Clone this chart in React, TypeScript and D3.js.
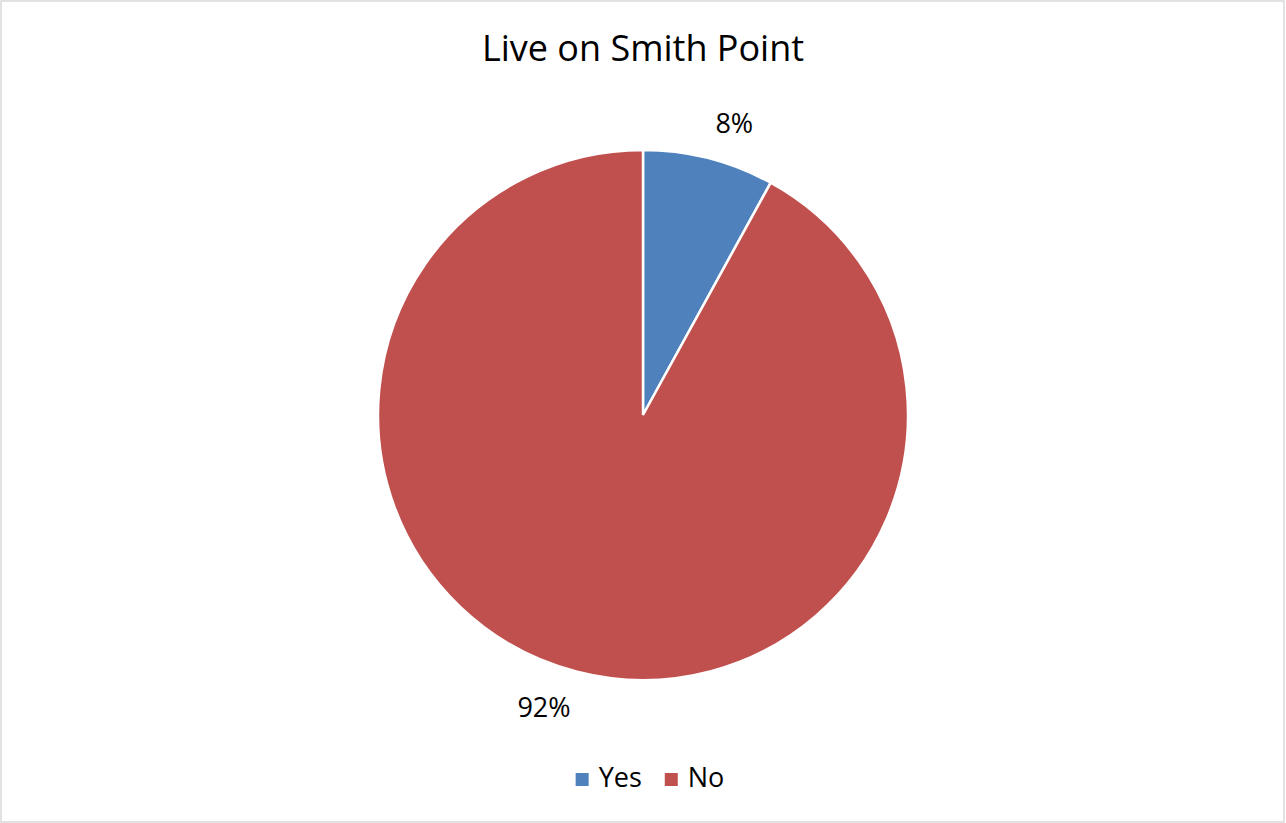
import React, { useEffect, useRef } from "react";
import * as d3 from "d3";

const title = "Live on Smith Point";
const categories = ["Yes", "No"];
const values = [8, 92];
const colors = ["#4F81BD", "#C0504D"];

const W = 1286;
const H = 823;
const FONT = "'Open Sans', 'Noto Sans', sans-serif";

export default function App() {
  const ref = useRef<SVGSVGElement>(null);

  useEffect(() => {
    const svg = d3.select(ref.current);
    svg.selectAll("*").remove();

    svg
      .append("rect")
      .attr("x", 1)
      .attr("y", 1)
      .attr("width", 1283)
      .attr("height", 821)
      .attr("fill", "#fff")
      .attr("stroke", "#d9d9d9")
      .attr("stroke-width", 1.5);

    svg
      .append("text")
      .attr("x", 643)
      .attr("y", 61)
      .attr("text-anchor", "middle")
      .attr("font-family", FONT)
      .attr("font-size", 36)
      .attr("fill", "#000")
      .text(title);

    const cx = 643;
    const cy = 415;
    const r = 265;
    const total = d3.sum(values);
    const data = categories.map((c, i) => ({ c, v: values[i], color: colors[i] }));
    const pie = d3.pie<any>().value((d: any) => d.v).sort(null);
    const arcs = pie(data);
    const arc = d3.arc<any>().innerRadius(0).outerRadius(r);

    const g = svg.append("g").attr("transform", `translate(${cx},${cy})`);
    g.selectAll("path")
      .data(arcs)
      .join("path")
      .attr("d", arc as any)
      .attr("fill", (d: any) => d.data.color)
      .attr("stroke", "#fff")
      .attr("stroke-width", 2.5)
      .attr("stroke-linejoin", "miter");

    // labels outside end
    const labelSize = 27;
    const gap = 18;
    arcs.forEach((a: any) => {
      const mid = (a.startAngle + a.endAngle) / 2;
      const sx = Math.sin(mid);
      const sy = -Math.cos(mid);
      const px = (r + gap) * sx;
      const py = (r + gap) * sy;
      const label = Math.round((a.data.v / total) * 100) + "%";
      const t = g
        .append("text")
        .attr("font-family", FONT)
        .attr("font-size", labelSize)
        .attr("fill", "#000")
        .attr("text-anchor", "middle")
        .text(label);
      const w = (t.node() as SVGTextElement).getComputedTextLength() + 4;
      const h = 36;
      const lx = px + Math.sign(sx) * (w / 2);
      const ly = py + Math.sign(sy) * (h / 2);
      t.attr("x", lx).attr("y", ly + labelSize * 0.36);
    });

    // legend
    const legendY = 779.5;
    const sq = 13;
    const legend = svg.append("g");
    let x = 0;
    categories.forEach((c, i) => {
      const item = legend.append("g");
      item
        .append("rect")
        .attr("x", x)
        .attr("y", legendY - sq / 2)
        .attr("width", sq)
        .attr("height", sq)
        .attr("fill", colors[i]);
      const t = item
        .append("text")
        .attr("x", x + sq + 10)
        .attr("y", 787)
        .attr("font-family", FONT)
        .attr("font-size", 27)
        .attr("fill", "#000")
        .text(c);
      const tw = (t.node() as SVGTextElement).getComputedTextLength();
      x += sq + 10 + tw + 23;
    });
    const totalW = x - 23;
    legend.attr("transform", `translate(${650 - totalW / 2},0)`);
  }, []);

  return (
    <svg
      ref={ref}
      width={W}
      height={H}
      style={{ position: "absolute", left: 0, top: 0, display: "block" }}
    />
  );
}
